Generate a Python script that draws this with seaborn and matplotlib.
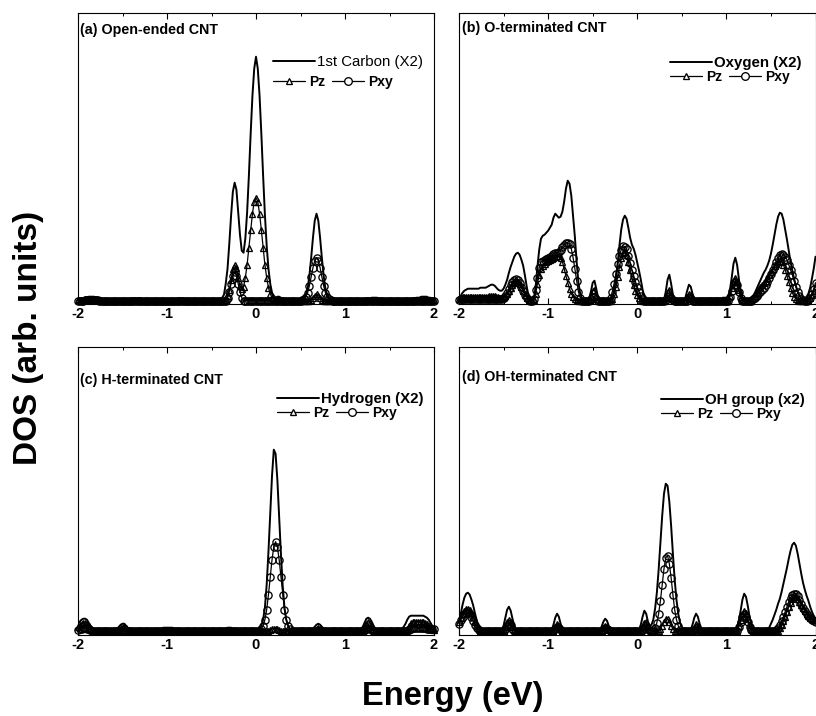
import numpy as np
import matplotlib
matplotlib.use("Agg")
import matplotlib.pyplot as plt
import seaborn as sns
from matplotlib.ticker import MultipleLocator
from matplotlib.lines import Line2D

# Energy grid (eV), 0.02 eV step
ENERGY = np.round(np.linspace(-2.0, 2.0, 201), 2)

# ---------------- (a) Open-ended CNT ----------------
A_TOTAL = [
    3, 3, 3, 3, 4, 4, 5, 5, 5, 5,
    4, 4, 3, 3, 2, 2, 2, 2, 2, 2,
    2, 2, 2, 2, 2, 2, 2, 2, 2, 3,
    3, 3, 3, 3, 3, 3, 3, 2, 2, 2,
    2, 2, 2, 2, 2, 2, 2, 2, 2, 2,
    2, 2, 2, 2, 2, 2, 3, 3, 3, 3,
    3, 2, 2, 2, 2, 2, 2, 2, 2, 2,
    2, 2, 2, 2, 2, 2, 2, 2, 2, 2,
    3, 4, 7, 18, 33, 58, 86, 110, 119, 112,
    90, 67, 51, 49, 63, 89, 126, 168, 206, 233,
    245, 233, 206, 168, 126, 87, 56, 33, 18, 9,
    6, 4, 5, 5, 4, 3, 2, 2, 2, 2,
    2, 2, 2, 2, 2, 2, 3, 4, 7, 13,
    26, 44, 64, 81, 88, 81, 64, 44, 26, 13,
    7, 4, 3, 2, 2, 2, 2, 2, 2, 2,
    2, 2, 2, 2, 2, 2, 2, 2, 2, 2,
    2, 2, 3, 3, 3, 4, 4, 4, 4, 3,
    3, 3, 2, 2, 2, 2, 2, 2, 2, 2,
    2, 2, 2, 2, 2, 2, 2, 3, 3, 3,
    4, 4, 4, 5, 5, 5, 5, 4, 4, 3,
    3]
A_PZ = [
    2, 2, 2, 2, 3, 3, 3, 3, 3, 3,
    3, 2, 2, 2, 1, 1, 1, 1, 1, 1,
    1, 1, 1, 1, 1, 1, 1, 1, 1, 1,
    1, 2, 2, 2, 2, 2, 1, 1, 1, 1,
    1, 1, 1, 1, 1, 1, 1, 1, 1, 1,
    1, 1, 1, 1, 1, 1, 2, 2, 2, 2,
    1, 1, 1, 1, 1, 1, 1, 1, 1, 1,
    1, 1, 1, 1, 1, 1, 1, 1, 1, 1,
    1, 1, 1, 2, 6, 12, 22, 33, 37, 34,
    24, 16, 13, 15, 24, 37, 54, 72, 88, 100,
    104, 100, 88, 72, 54, 37, 24, 14, 8, 4,
    2, 2, 2, 2, 2, 1, 1, 1, 1, 1,
    1, 1, 1, 1, 1, 1, 1, 1, 1, 1,
    1, 2, 4, 6, 8, 6, 4, 2, 1, 1,
    1, 1, 1, 1, 1, 1, 1, 1, 1, 1,
    1, 1, 1, 1, 1, 1, 1, 1, 1, 1,
    1, 1, 2, 2, 2, 2, 2, 2, 1, 1,
    1, 1, 1, 1, 1, 1, 1, 1, 1, 1,
    1, 1, 1, 1, 1, 1, 1, 1, 2, 2,
    2, 2, 3, 3, 3, 3, 2, 2, 2, 2,
    2]
A_PXY = [
    1, 1, 1, 1, 2, 2, 2, 2, 2, 2,
    2, 2, 1, 1, 1, 1, 1, 1, 1, 1,
    1, 1, 1, 1, 1, 1, 1, 1, 1, 1,
    1, 1, 1, 1, 1, 1, 1, 1, 1, 1,
    1, 1, 1, 1, 1, 1, 1, 1, 1, 1,
    1, 1, 1, 1, 1, 1, 1, 1, 1, 1,
    1, 1, 1, 1, 1, 1, 1, 1, 1, 1,
    1, 1, 1, 1, 1, 1, 1, 1, 1, 1,
    1, 1, 1, 1, 4, 10, 18, 26, 30, 26,
    18, 10, 4, 1, 1, 1, 1, 1, 1, 1,
    1, 1, 1, 1, 1, 1, 1, 1, 1, 1,
    1, 1, 1, 1, 1, 1, 1, 1, 1, 1,
    1, 1, 1, 1, 1, 1, 2, 3, 5, 9,
    16, 25, 34, 41, 44, 41, 34, 25, 16, 9,
    5, 3, 2, 1, 1, 1, 1, 1, 1, 1,
    1, 1, 1, 1, 1, 1, 1, 1, 1, 1,
    1, 1, 1, 1, 1, 1, 1, 1, 1, 1,
    1, 1, 1, 1, 1, 1, 1, 1, 1, 1,
    1, 1, 1, 1, 1, 1, 1, 1, 1, 1,
    1, 1, 1, 1, 1, 1, 1, 1, 1, 1,
    1]

# ---------------- (b) O-terminated CNT ----------------
B_TOTAL = [
    3, 6, 9, 11, 12, 13, 13, 13, 13, 13,
    13, 13, 14, 14, 14, 14, 15, 16, 17, 17,
    16, 14, 12, 11, 11, 13, 17, 22, 29, 35,
    40, 45, 48, 49, 47, 42, 36, 26, 15, 6,
    2, 1, 3, 15, 35, 52, 63, 66, 67, 69,
    71, 74, 77, 84, 88, 86, 84, 85, 90, 100,
    113, 121, 118, 106, 86, 65, 40, 19, 8, 3,
    2, 1, 1, 3, 10, 19, 21, 13, 4, 1,
    1, 1, 1, 1, 1, 2, 5, 11, 22, 38,
    56, 72, 82, 86, 83, 74, 64, 57, 53, 47,
    39, 31, 22, 12, 5, 2, 1, 1, 1, 1,
    1, 1, 1, 1, 1, 2, 10, 22, 27, 18,
    7, 2, 1, 1, 1, 1, 1, 4, 11, 17,
    15, 8, 3, 1, 2, 2, 2, 3, 3, 3,
    3, 3, 3, 3, 3, 3, 3, 3, 4, 4,
    4, 5, 12, 24, 38, 44, 37, 23, 10, 4,
    2, 2, 2, 3, 4, 6, 9, 13, 17, 21,
    25, 29, 32, 36, 41, 48, 57, 67, 77, 85,
    89, 88, 82, 72, 62, 51, 40, 31, 23, 16,
    10, 6, 4, 3, 3, 5, 8, 14, 23, 33,
    45]
B_PZ = [
    3, 4, 5, 5, 5, 5, 5, 5, 5, 5,
    5, 5, 5, 5, 5, 5, 5, 6, 6, 6,
    6, 5, 5, 4, 4, 5, 6, 8, 11, 14,
    17, 19, 20, 20, 18, 15, 11, 7, 4, 2,
    1, 1, 2, 8, 18, 27, 33, 36, 38, 40,
    41, 42, 43, 44, 45, 46, 46, 44, 40, 33,
    26, 19, 13, 8, 5, 3, 2, 1, 1, 1,
    1, 1, 1, 2, 6, 11, 12, 7, 3, 1,
    1, 1, 1, 1, 1, 1, 3, 8, 15, 25,
    35, 44, 49, 50, 47, 40, 32, 24, 17, 11,
    7, 4, 2, 1, 1, 1, 1, 1, 1, 1,
    1, 1, 1, 1, 1, 1, 4, 10, 12, 8,
    3, 1, 1, 1, 1, 1, 1, 1, 5, 8,
    7, 3, 1, 1, 1, 1, 1, 1, 1, 1,
    1, 1, 1, 1, 1, 1, 1, 1, 1, 1,
    1, 1, 6, 14, 21, 24, 20, 12, 5, 2,
    1, 1, 1, 1, 1, 4, 6, 9, 12, 15,
    17, 19, 21, 24, 27, 30, 33, 36, 38, 40,
    41, 40, 37, 32, 26, 20, 14, 9, 5, 3,
    2, 1, 1, 1, 1, 1, 2, 4, 7, 11,
    16]
B_PXY = [
    2, 3, 3, 3, 3, 3, 3, 3, 3, 3,
    3, 3, 3, 3, 3, 3, 3, 3, 3, 3,
    3, 3, 3, 3, 3, 4, 6, 9, 13, 17,
    20, 22, 23, 22, 19, 15, 11, 7, 4, 2,
    1, 1, 3, 12, 24, 34, 40, 41, 42, 43,
    44, 45, 46, 48, 49, 49, 50, 52, 55, 57,
    59, 59, 58, 53, 44, 33, 21, 10, 4, 1,
    1, 1, 1, 1, 3, 5, 5, 3, 1, 1,
    1, 1, 1, 1, 1, 4, 10, 18, 28, 38,
    46, 52, 56, 55, 53, 46, 39, 32, 26, 20,
    15, 10, 6, 3, 1, 1, 1, 1, 1, 1,
    1, 1, 1, 1, 1, 1, 2, 5, 6, 4,
    2, 1, 1, 1, 1, 1, 1, 1, 1, 4,
    3, 1, 1, 1, 1, 1, 1, 1, 1, 1,
    1, 1, 1, 1, 1, 1, 1, 1, 1, 1,
    1, 1, 5, 11, 17, 20, 17, 10, 4, 1,
    1, 1, 1, 1, 1, 3, 4, 6, 8, 10,
    12, 14, 17, 20, 24, 28, 32, 36, 40, 44,
    47, 48, 47, 45, 42, 37, 32, 27, 21, 15,
    10, 6, 3, 2, 1, 1, 2, 4, 8, 13,
    19]

# ---------------- (c) H-terminated CNT ----------------
C_TOTAL = [
    8, 10, 12, 13, 13, 12, 9, 6, 4, 3,
    2, 2, 2, 2, 2, 2, 2, 2, 2, 2,
    2, 2, 3, 5, 7, 8, 8, 6, 4, 3,
    2, 2, 2, 2, 2, 2, 2, 2, 2, 2,
    2, 2, 2, 2, 2, 3, 3, 3, 4, 4,
    4, 4, 4, 4, 3, 3, 3, 2, 2, 2,
    2, 2, 2, 2, 2, 2, 2, 2, 2, 2,
    2, 2, 2, 2, 2, 2, 2, 2, 2, 2,
    2, 2, 3, 3, 4, 4, 4, 3, 3, 2,
    2, 2, 2, 2, 2, 2, 2, 2, 2, 2,
    2, 2, 3, 6, 12, 24, 47, 80, 119, 156,
    182, 178, 152, 115, 78, 46, 24, 12, 6, 3,
    2, 2, 2, 2, 2, 2, 2, 2, 2, 2,
    2, 2, 3, 5, 7, 8, 7, 5, 3, 2,
    2, 2, 2, 2, 2, 2, 2, 2, 2, 2,
    2, 2, 2, 2, 2, 2, 2, 2, 2, 3,
    5, 9, 13, 14, 13, 10, 6, 3, 2, 2,
    2, 2, 2, 2, 2, 2, 2, 2, 2, 2,
    2, 2, 3, 5, 8, 12, 15, 16, 16, 16,
    16, 16, 16, 16, 16, 15, 14, 12, 9, 6,
    4]
C_PZ = [
    5, 7, 8, 9, 9, 8, 6, 4, 2, 1,
    1, 1, 1, 1, 1, 1, 1, 1, 1, 1,
    1, 1, 1, 2, 4, 5, 5, 4, 2, 1,
    1, 1, 1, 1, 1, 1, 1, 1, 1, 1,
    1, 1, 1, 1, 1, 1, 1, 1, 1, 1,
    1, 1, 1, 1, 1, 1, 1, 1, 1, 1,
    1, 1, 1, 1, 1, 1, 1, 1, 1, 1,
    1, 1, 1, 1, 1, 1, 1, 1, 1, 1,
    1, 1, 1, 1, 1, 1, 1, 1, 1, 1,
    1, 1, 1, 1, 1, 1, 1, 1, 1, 1,
    1, 1, 1, 1, 1, 1, 1, 1, 2, 3,
    3, 3, 3, 2, 1, 1, 1, 1, 1, 1,
    1, 1, 1, 1, 1, 1, 1, 1, 1, 1,
    1, 1, 1, 1, 3, 4, 3, 1, 1, 1,
    1, 1, 1, 1, 1, 1, 1, 1, 1, 1,
    1, 1, 1, 1, 1, 1, 1, 1, 1, 1,
    1, 4, 8, 10, 9, 6, 3, 1, 1, 1,
    1, 1, 1, 1, 1, 1, 1, 1, 1, 1,
    1, 1, 1, 1, 1, 3, 6, 9, 10, 10,
    10, 10, 10, 10, 10, 9, 8, 6, 4, 3,
    2]
C_PXY = [
    2, 3, 3, 4, 4, 3, 3, 2, 1, 1,
    1, 1, 1, 1, 1, 1, 1, 1, 1, 1,
    1, 1, 1, 1, 1, 1, 1, 1, 1, 1,
    1, 1, 1, 1, 1, 1, 1, 1, 1, 1,
    1, 1, 1, 1, 1, 1, 1, 1, 1, 1,
    1, 1, 1, 1, 1, 1, 1, 1, 1, 1,
    1, 1, 1, 1, 1, 1, 1, 1, 1, 1,
    1, 1, 1, 1, 1, 1, 1, 1, 1, 1,
    1, 1, 1, 1, 1, 1, 1, 1, 1, 1,
    1, 1, 1, 1, 1, 1, 1, 1, 1, 1,
    1, 1, 1, 3, 6, 12, 22, 37, 55, 72,
    85, 90, 85, 72, 55, 37, 22, 12, 6, 3,
    1, 1, 1, 1, 1, 1, 1, 1, 1, 1,
    1, 1, 1, 1, 1, 1, 1, 1, 1, 1,
    1, 1, 1, 1, 1, 1, 1, 1, 1, 1,
    1, 1, 1, 1, 1, 1, 1, 1, 1, 1,
    1, 2, 3, 4, 3, 2, 1, 1, 1, 1,
    1, 1, 1, 1, 1, 1, 1, 1, 1, 1,
    1, 1, 1, 1, 1, 1, 2, 3, 4, 4,
    4, 4, 4, 4, 4, 4, 3, 3, 3, 3,
    3]

# ---------------- (d) OH-terminated CNT ----------------
D_TOTAL = [
    9, 18, 27, 34, 38, 39, 37, 32, 26, 18,
    11, 5, 2, 1, 1, 1, 1, 1, 1, 1,
    1, 1, 1, 1, 2, 6, 14, 22, 25, 21,
    13, 6, 2, 1, 1, 1, 1, 1, 1, 1,
    1, 1, 1, 1, 1, 1, 1, 1, 1, 1,
    1, 1, 2, 7, 14, 18, 15, 8, 3, 1,
    1, 1, 1, 1, 1, 1, 1, 1, 1, 1,
    1, 1, 1, 1, 1, 1, 1, 1, 1, 2,
    5, 10, 13, 11, 6, 2, 1, 1, 1, 1,
    1, 1, 1, 1, 1, 1, 1, 1, 1, 1,
    1, 2, 7, 15, 21, 18, 10, 6, 7, 12,
    23, 39, 62, 89, 116, 138, 148, 146, 130, 106,
    78, 52, 32, 18, 9, 4, 2, 1, 1, 1,
    2, 7, 14, 18, 15, 8, 3, 1, 1, 1,
    1, 1, 1, 1, 1, 1, 1, 1, 1, 1,
    1, 1, 1, 1, 1, 2, 5, 11, 21, 32,
    38, 35, 26, 15, 7, 3, 1, 1, 1, 1,
    1, 1, 1, 2, 4, 8, 12, 17, 22, 28,
    33, 40, 48, 56, 64, 73, 81, 87, 89, 86,
    78, 68, 58, 49, 42, 36, 31, 25, 20, 16,
    13]
D_PZ = [
    10, 14, 18, 21, 23, 23, 22, 19, 15, 10,
    6, 3, 1, 1, 1, 1, 1, 1, 1, 1,
    1, 1, 1, 1, 1, 1, 5, 10, 12, 10,
    5, 2, 1, 1, 1, 1, 1, 1, 1, 1,
    1, 1, 1, 1, 1, 1, 1, 1, 1, 1,
    1, 1, 1, 1, 5, 8, 6, 3, 1, 1,
    1, 1, 1, 1, 1, 1, 1, 1, 1, 1,
    1, 1, 1, 1, 1, 1, 1, 1, 1, 1,
    1, 4, 6, 5, 2, 1, 1, 1, 1, 1,
    1, 1, 1, 1, 1, 1, 1, 1, 1, 1,
    1, 1, 1, 5, 9, 10, 6, 2, 1, 1,
    1, 1, 1, 3, 6, 10, 13, 13, 10, 6,
    3, 1, 1, 1, 1, 1, 1, 1, 1, 1,
    1, 1, 4, 8, 6, 3, 1, 1, 1, 1,
    1, 1, 1, 1, 1, 1, 1, 1, 1, 1,
    1, 1, 1, 1, 1, 1, 1, 6, 12, 18,
    21, 19, 13, 7, 3, 1, 1, 1, 1, 1,
    1, 1, 1, 1, 1, 1, 1, 1, 1, 1,
    4, 7, 11, 15, 20, 25, 29, 33, 35, 35,
    33, 30, 27, 24, 21, 18, 16, 14, 13, 12,
    12]
D_PXY = [
    8, 12, 15, 18, 19, 19, 18, 15, 11, 7,
    4, 2, 1, 1, 1, 1, 1, 1, 1, 1,
    1, 1, 1, 1, 1, 1, 3, 6, 8, 7,
    3, 1, 1, 1, 1, 1, 1, 1, 1, 1,
    1, 1, 1, 1, 1, 1, 1, 1, 1, 1,
    1, 1, 1, 1, 3, 5, 4, 2, 1, 1,
    1, 1, 1, 1, 1, 1, 1, 1, 1, 1,
    1, 1, 1, 1, 1, 1, 1, 1, 1, 1,
    1, 2, 4, 3, 2, 1, 1, 1, 1, 1,
    1, 1, 1, 1, 1, 1, 1, 1, 1, 1,
    1, 1, 1, 2, 4, 5, 3, 1, 1, 2,
    4, 9, 18, 31, 47, 63, 74, 76, 68, 54,
    37, 22, 12, 6, 2, 1, 1, 1, 1, 1,
    1, 1, 2, 3, 2, 1, 1, 1, 1, 1,
    1, 1, 1, 1, 1, 1, 1, 1, 1, 1,
    1, 1, 1, 1, 1, 1, 1, 5, 10, 15,
    17, 15, 10, 5, 2, 1, 1, 1, 1, 1,
    1, 1, 1, 1, 1, 1, 1, 1, 2, 4,
    7, 11, 15, 20, 25, 30, 34, 37, 38, 38,
    36, 32, 28, 24, 21, 18, 16, 14, 12, 11,
    10]

TITLES = ["(a) Open-ended CNT", "(b) O-terminated CNT",
          "(c) H-terminated CNT", "(d) OH-terminated CNT"]
TOTAL_LABELS = ["1st Carbon (X2)", "Oxygen (X2)", "Hydrogen (X2)", "OH group (x2)"]
ORBITAL_LABELS = ["Pz", "Pxy"]
X_TICKS = [-2, -1, 0, 1, 2]

TOTALS = [A_TOTAL, B_TOTAL, C_TOTAL, D_TOTAL]
PZS = [A_PZ, B_PZ, C_PZ, D_PZ]
PXYS = [A_PXY, B_PXY, C_PXY, D_PXY]
for arr in TOTALS + PZS + PXYS:
    assert len(arr) == len(ENERGY), len(arr)

sns.set_theme(style="ticks")
plt.rcParams["font.family"] = ["Liberation Sans", "DejaVu Sans"]
plt.rcParams["axes.unicode_minus"] = False
plt.rcParams.update({"text.color": "black", "axes.labelcolor": "black",
                     "xtick.color": "black", "ytick.color": "black",
                     "axes.edgecolor": "black"})

W, H = 816, 716
fig = plt.figure(figsize=(W / 100, H / 100), dpi=100)


def box(l, r, t, b):
    return [l / W, 1 - b / H, (r - l) / W, (b - t) / H]


rects = [box(78, 434, 12.5, 304), box(459, 815.5, 12.5, 304),
         box(78, 434, 347, 635), box(459, 815.5, 347, 635)]
ylims = [(-2.3, 289.2), (-2.3, 289.2), (-3.3, 284.7), (-3.3, 284.7)]
title_pos = [(0.006, 0.940), (0.008, 0.946), (0.006, 0.885), (0.008, 0.897)]
leg_x = [0.548, 0.591, 0.559, 0.566]
leg_y1 = [0.830, 0.826, 0.818, 0.815]
leg_y2 = [0.762, 0.780, 0.770, 0.768]
total_weight = ["normal", "bold", "bold", "bold"]

MK = dict(markeredgecolor="black", markeredgewidth=0.95)

for k in range(4):
    ax = fig.add_axes(rects[k])
    sns.lineplot(x=ENERGY, y=TOTALS[k], ax=ax, color="black", lw=1.4,
                 estimator=None, errorbar=None, sort=False, zorder=2)
    sns.lineplot(x=ENERGY, y=PZS[k], ax=ax, color="black", lw=0.9,
                 marker="^", markersize=4.6, markerfacecolor="none",
                 estimator=None, errorbar=None, sort=False, zorder=3,
                 clip_on=False, **MK)
    sns.lineplot(x=ENERGY, y=PXYS[k], ax=ax, color="black", lw=0.9,
                 marker="o", markersize=5.2, markerfacecolor="none",
                 estimator=None, errorbar=None, sort=False, zorder=4,
                 clip_on=False, **MK)
    if ax.get_legend() is not None:
        ax.get_legend().remove()

    ax.set_xlim(-2, 2)
    ax.set_ylim(*ylims[k])
    ax.set_xticks(X_TICKS)
    ax.set_xticklabels([str(t) for t in X_TICKS])
    ax.xaxis.set_minor_locator(MultipleLocator(0.5))
    ax.set_yticks([])
    ax.tick_params(axis="x", which="major", direction="in", top=True,
                   length=4, width=0.8, labelsize=10.5, pad=2.5, colors="black")
    ax.tick_params(axis="x", which="minor", direction="in", top=True,
                   length=2.5, width=0.7)
    for lab in ax.get_xticklabels():
        lab.set_fontweight("bold")
    for sp in ax.spines.values():
        sp.set_linewidth(0.8)
        sp.set_color("black")
    ax.set_xlabel("")
    ax.set_ylabel("")

    ax.text(title_pos[k][0], title_pos[k][1], TITLES[k], transform=ax.transAxes,
            ha="left", va="center", fontsize=10.3, fontweight="bold")

    h_tot = Line2D([], [], color="black", lw=1.4)
    h_pz = Line2D([], [], color="black", lw=0.9, marker="^", markersize=5,
                  markerfacecolor="white", **MK)
    h_pxy = Line2D([], [], color="black", lw=0.9, marker="o", markersize=5.5,
                   markerfacecolor="white", **MK)
    leg1 = ax.legend([h_tot], [TOTAL_LABELS[k]], loc="center left",
                     bbox_to_anchor=(leg_x[k], leg_y1[k]), frameon=False,
                     borderpad=0, borderaxespad=0, handlelength=2.8,
                     handletextpad=0.15,
                     prop={"size": 10.8, "weight": total_weight[k]})
    ax.add_artist(leg1)
    ax.legend([h_pz, h_pxy], ORBITAL_LABELS, ncol=2, loc="center left",
              bbox_to_anchor=(leg_x[k], leg_y2[k]), frameon=False,
              borderpad=0, borderaxespad=0, handlelength=2.3,
              handletextpad=0.3, columnspacing=0.5,
              prop={"size": 10, "weight": "bold"})

fig.text(28 / W, 1 - 338 / H, "DOS (arb. units)", rotation=90, ha="center",
         va="center", fontsize=24, fontweight="bold")
fig.text(452.5 / W, 1 - 697 / H, "Energy (eV)", ha="center", va="center",
         fontsize=23.5, fontweight="bold")

fig.savefig("out.png", dpi=100)
